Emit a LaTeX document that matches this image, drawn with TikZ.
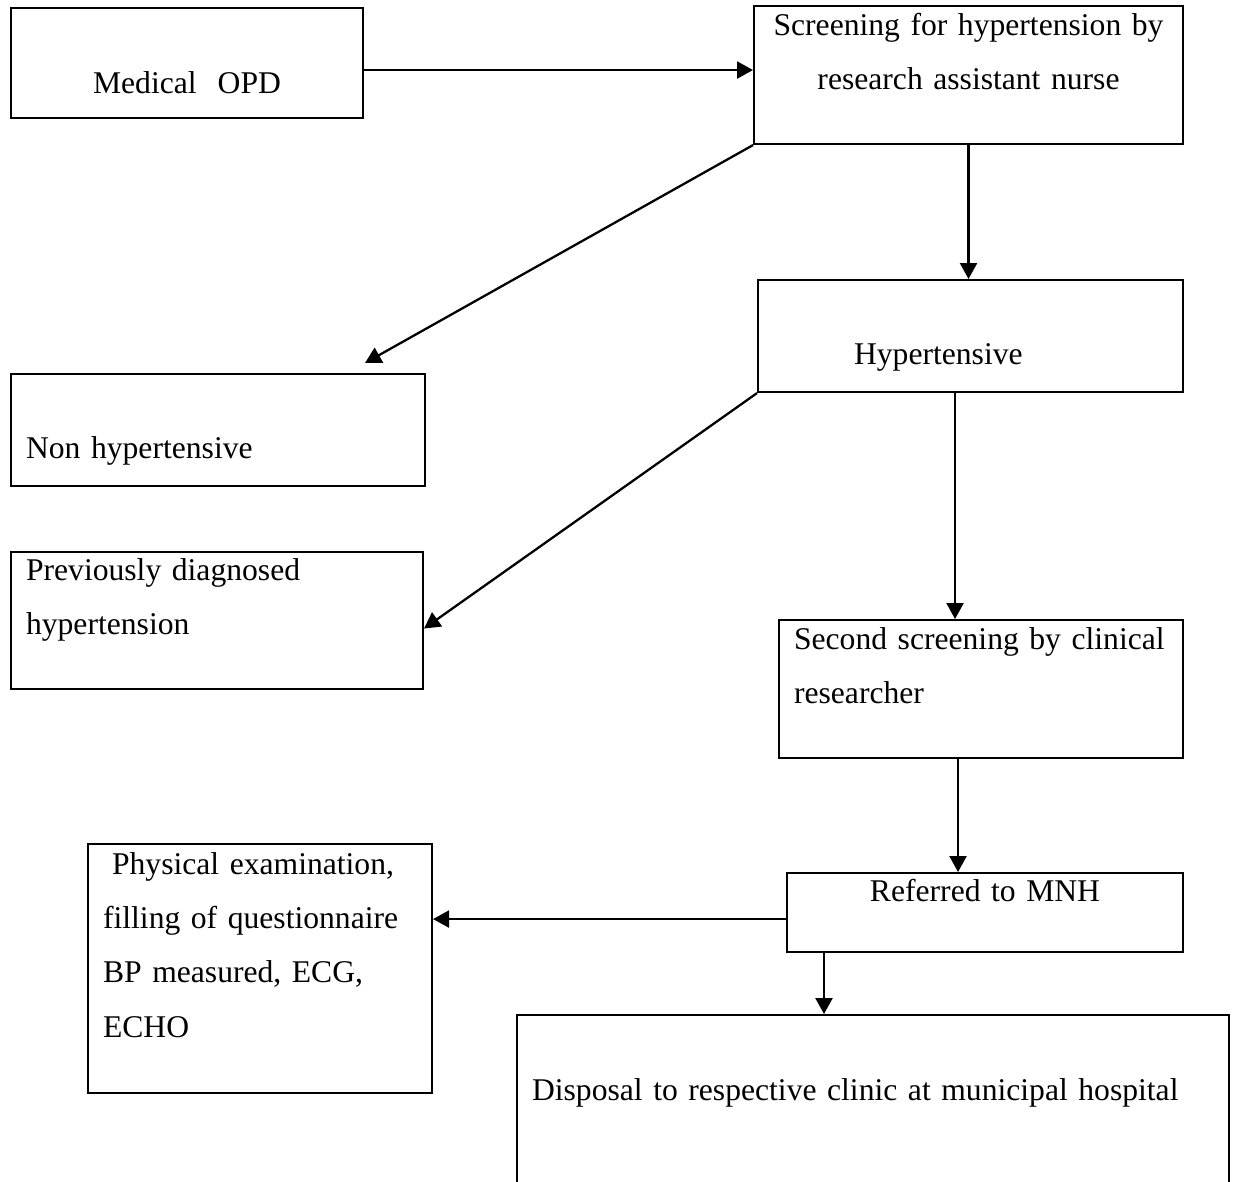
\documentclass[tikz,border=0pt]{standalone}
\usepackage{fontspec}
\setmainfont{Liberation Serif}
\usepackage{tikz}
\usetikzlibrary{arrows.meta}

\begin{document}
\begin{tikzpicture}[
    x=0.02cm, y=-0.02cm,
    every node/.style={font=\fontsize{18pt}{31pt}\selectfont},
    box/.style={rectangle, draw=black, line width=1.2pt, inner ysep=0pt, anchor=north west},
    boxc/.style={box, align=center, inner xsep=0pt},
    boxl/.style={box, align=left, inner xsep=0.3cm},
    arrow/.style={-{Triangle[length=0.32cm, width=0.34cm]}, line width=1.3pt, draw=black},
]
\clip (0,0) rectangle (1233,1181);

\node[boxc, text width=7.04cm, text height=1.70cm, text depth=0.50cm] (opd) at (10,7) {Medical\ \ OPD};
\node[boxc, text width=8.58cm, text height=0.58cm, text depth=2.18cm] (screen) at (753,5)
    {Screening for hypertension by\\research assistant nurse};
\node[boxl, inner xsep=1.92cm, text width=4.66cm, text height=1.68cm, text depth=0.56cm] (hyper) at (757,279) {Hypertensive};
\node[boxl, text width=7.68cm, text height=1.68cm, text depth=0.56cm] (nonhyp) at (10,373) {Non hypertensive};
\node[boxl, text width=7.64cm, text height=0.56cm, text depth=2.18cm] (prev) at (10,551)
    {Previously diagnosed\\hypertension};
\node[boxl, text width=7.48cm, text height=0.58cm, text depth=2.18cm] (second) at (778,619)
    {Second screening by clinical\\researcher};
\node[boxc, text width=7.92cm, text height=0.56cm, text depth=1.02cm] (referred) at (786,872) {Referred to MNH};
\node[boxl, text width=6.28cm, text height=0.60cm, text depth=4.38cm] (phys) at (87,843)
    {\hspace*{0.18cm}Physical examination,\\filling of questionnaire\\BP measured, ECG,\\ECHO};
\node[boxl, text width=13.64cm, text height=1.70cm, text depth=3.02cm] (dispo) at (516,1014)
    {Disposal to respective clinic at municipal hospital};
\coordinate (nonhypin) at (365,363);

\draw[arrow] ([yshift=-0.14cm]opd.east) -- ([yshift=-0.14cm]opd.east -| screen.west);
\draw[arrow] (screen.south) -- (screen.south |- hyper.north);
\draw[arrow] (screen.south west) -- (nonhypin);
\draw[arrow] (hyper.south west) -- ([yshift=-0.16cm]prev.east);
\draw[arrow] ([xshift=-0.31cm]hyper.south) -- ([xshift=-0.31cm]hyper.south |- second.north);
\draw[arrow] ([xshift=-0.46cm]second.south) -- ([xshift=-0.46cm]second.south |- referred.north);
\draw[arrow] ([yshift=-0.13cm]referred.west) -- ([yshift=-0.13cm]referred.west -| phys.east);
\draw[arrow] ([xshift=0.76cm]referred.south west) -- ([xshift=0.76cm]referred.south west |- dispo.north);
\end{tikzpicture}
\end{document}
